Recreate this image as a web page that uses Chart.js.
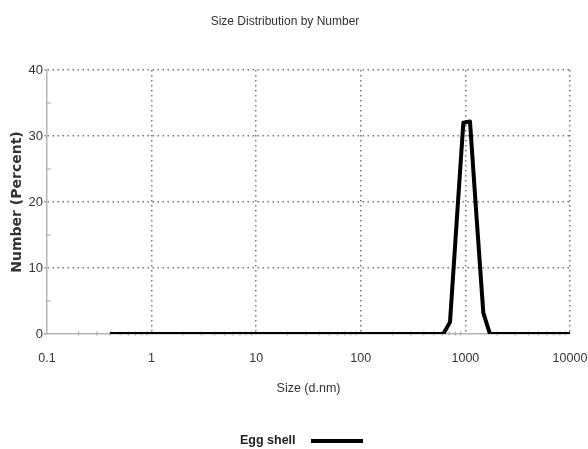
<!DOCTYPE html>
<html>
<head>
<meta charset="utf-8">
<script src="https://cdn.jsdelivr.net/npm/chart.js@4/dist/chart.umd.min.js"></script>
<style>
  html, body { margin: 0; padding: 0; background: #fff; }
  #wrap { width: 588px; height: 449px; position: relative; }
</style>
</head>
<body>
<div id="wrap"><canvas id="c" width="588" height="449"></canvas></div>
<script>
// ---- data ----
const chartTitle = 'Size Distribution by Number';
const seriesLabel = 'Egg shell';
const sizes   = [0.4, 615.1, 712.4, 825.0, 955.4, 1106, 1281, 1484, 1718, 10000]; // d.nm
const numbers = [0,   0,     1.8,   17,    32,    32.2, 17.5, 3.2,  0,    0];     // percent
const xTicks = [0.1, 1, 10, 100, 1000, 10000];
const yMinorTicks = [5, 15, 25, 35];
const xMinorMultipliers = [2, 3, 4, 5, 6, 7, 8, 9];

const sans = '"Liberation Sans", Arial, sans-serif';

const minorTicksPlugin = {
  id: 'minorTicks',
  beforeDatasetsDraw(chart) {
    const ctx = chart.ctx, xs = chart.scales.x, ys = chart.scales.y;
    const area = chart.chartArea;
    ctx.save();
    ctx.strokeStyle = '#aaa';
    ctx.lineWidth = 1.2;
    ctx.beginPath();
    yMinorTicks.forEach(v => {
      const y = ys.getPixelForValue(v);
      ctx.moveTo(area.left, y); ctx.lineTo(area.left + 4, y);
    });
    for (let d = 0; d < xTicks.length - 1; d++) {
      xMinorMultipliers.forEach(m => {
        const x = xs.getPixelForValue(xTicks[d] * m);
        ctx.moveTo(x, area.bottom + 1.5); ctx.lineTo(x, area.bottom - 2.5);
      });
    }
    ctx.stroke();
    ctx.restore();
  }
};

const legendPlugin = {
  id: 'customLegend',
  afterDraw(chart) {
    const ctx = chart.ctx;
    const ds = chart.data.datasets[0];
    ctx.save();
    ctx.font = 'bold 12.5px "Liberation Sans", Arial, sans-serif';
    ctx.fillStyle = '#222';
    ctx.textBaseline = 'middle';
    ctx.textAlign = 'left';
    const y = 441;
    ctx.fillText(ds.label, 240, y);
    ctx.strokeStyle = ds.borderColor;
    ctx.lineWidth = 4;
    ctx.beginPath();
    ctx.moveTo(311, y); ctx.lineTo(363, y);
    ctx.stroke();
    ctx.restore();
  }
};

const gridColor = (edgeValue) => (c) =>
  (c.tick && c.tick.value === edgeValue) ? 'rgba(0,0,0,0)' : '#777';

new Chart(document.getElementById('c'), {
  type: 'line',
  data: {
    datasets: [{
      label: seriesLabel,
      data: sizes.map((s, i) => ({ x: s, y: numbers[i] })),
      borderColor: '#000',
      backgroundColor: '#000',
      borderWidth: 4,
      borderJoinStyle: 'round',
      pointRadius: 0,
      tension: 0,
      fill: false
    }]
  },
  options: {
    responsive: false,
    animation: false,
    events: [],
    layout: { padding: { left: 0, right: 18, top: 0, bottom: 53 } },
    plugins: {
      legend: { display: false },
      tooltip: { enabled: false },
      title: {
        display: true,
        text: chartTitle,
        color: '#333',
        font: { family: sans, size: 12, weight: 'normal' },
        padding: { top: 14, bottom: 41.6 }
      }
    },
    scales: {
      x: {
        type: 'logarithmic',
        min: 0.1,
        max: 10000,
        afterBuildTicks(s) { s.ticks = xTicks.map(v => ({ value: v })); },
        afterFit(s) { s.height = 62; s.paddingLeft = 0; s.paddingRight = 0; },
        ticks: {
          color: '#333',
          font: { family: sans, size: 12.5 },
          padding: 17,
          maxRotation: 0,
          autoSkip: false,
          callback: v => String(v)
        },
        grid: {
          color: gridColor(0.1),
          lineWidth: 1.5,
          drawTicks: false
        },
        border: { display: true, color: '#b5b5b5', width: 1.5, dash: [1.5, 3.5] },
        title: {
          display: true,
          text: 'Size (d.nm)',
          color: '#333',
          font: { family: sans, size: 12.5, weight: 'normal' },
          padding: { top: 0, bottom: 0 }
        }
      },
      y: {
        min: 0,
        max: 40,
        afterFit(s) { s.width = 47; },
        ticks: {
          stepSize: 10,
          color: '#333',
          font: { family: sans, size: 13 },
          padding: 1
        },
        grid: {
          color: gridColor(0),
          lineWidth: 1.5,
          drawTicks: true,
          tickLength: 3,
          tickColor: '#aaa',
          tickBorderDash: []
        },
        border: { display: true, color: '#b5b5b5', width: 1.5, dash: [1.5, 3.5] },
        title: {
          display: true,
          text: 'Number (Percent)',
          color: '#333',
          font: { family: '"DejaVu Sans", sans-serif', size: 14, weight: 'bold' },
          padding: { top: 9, bottom: 0 }
        }
      }
    }
  },
  plugins: [minorTicksPlugin, legendPlugin]
});
</script>
</body>
</html>
